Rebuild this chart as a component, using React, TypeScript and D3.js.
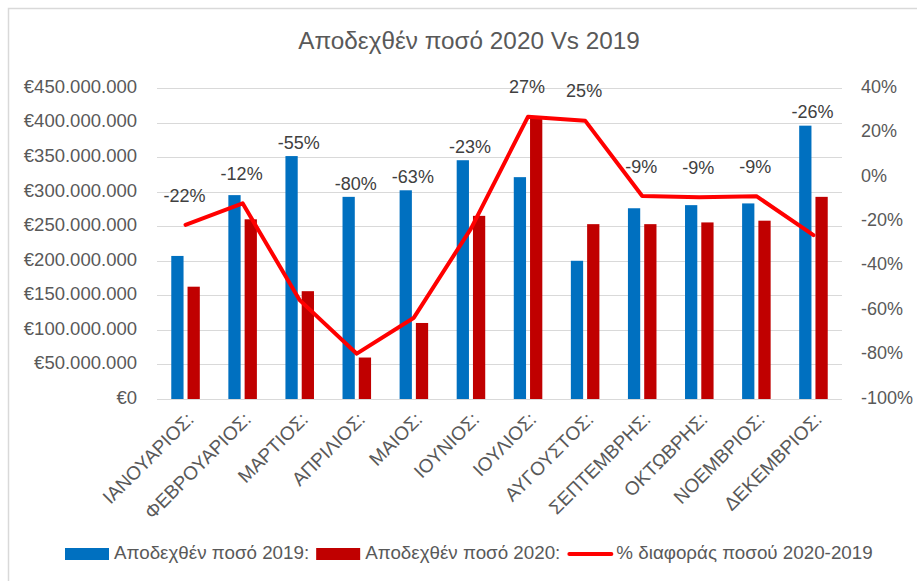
import React, { useEffect, useRef } from 'react';
import * as d3 from 'd3';

const months = [
    'ΙΑΝΟΥΑΡΙΟΣ:', 'ΦΕΒΡΟΥΑΡΙΟΣ:', 'ΜΑΡΤΙΟΣ:', 'ΑΠΡΙΛΙΟΣ:', 'ΜΑΙΟΣ:', 'ΙΟΥΝΙΟΣ:',
    'ΙΟΥΛΙΟΣ:', 'ΑΥΓΟΥΣΤΟΣ:', 'ΣΕΠΤΕΜΒΡΗΣ:', 'ΟΚΤΩΒΡΗΣ:', 'ΝΟΕΜΒΡΙΟΣ:', 'ΔΕΚΕΜΒΡΙΟΣ:'
];
const amount2019 = [207e6, 295e6, 351.5e6, 292.5e6, 302e6, 345.5e6, 321e6, 200e6, 276e6, 280.5e6, 283e6, 395.5e6];
const amount2020 = [162.5e6, 260e6, 156e6, 60e6, 110e6, 265e6, 408e6, 253e6, 253e6, 255.5e6, 258e6, 292.5e6];
const pctDiff = [-21.6, -11.9, -55.5, -79.6, -63.4, -23.3, 27.1, 25.3, -8.6, -9.2, -8.7, -26.2];

const leftTicks = [0, 50e6, 100e6, 150e6, 200e6, 250e6, 300e6, 350e6, 400e6, 450e6];
const rightTicks = [-100, -80, -60, -40, -20, 0, 20, 40];

const title = 'Αποδεχθέν ποσό 2020 Vs 2019';
const legendLabels = ['Αποδεχθέν ποσό 2019:', 'Αποδεχθέν ποσό 2020:', '% διαφοράς ποσού 2020-2019'];

const BLUE = '#0070C0';
const DARK_RED = '#C00000';
const LINE_RED = '#FF0000';
const GRID = '#D9D9D9';
const TEXT = '#595959';
const FONT = '"Liberation Sans", Arial, sans-serif';

export default function App() {
    const ref = useRef<SVGSVGElement>(null);
    const width = 917;
    const height = 581;
    const plotLeft = 157;
    const plotRight = 842;
    const plotTop = 88;
    const plotBottom = 399;

    useEffect(() => {
        const svg = d3.select(ref.current);
        svg.selectAll('*').remove();

        // chart frame (cut off on the right and bottom like the screenshot)
        svg.append('rect')
            .attr('x', 8.5)
            .attr('y', 8.5)
            .attr('width', 1000)
            .attr('height', 700)
            .attr('fill', 'white')
            .attr('stroke', GRID)
            .attr('stroke-width', 1.5);

        const x = d3.scaleBand()
            .domain(months)
            .range([plotLeft, plotRight])
            .paddingInner(0.5)
            .paddingOuter(0.25);
        const y = d3.scaleLinear().domain([0, 450e6]).range([plotBottom, plotTop]);
        const yPct = d3.scaleLinear().domain([-100, 40]).range([plotBottom, plotTop]);

        const bw = x.bandwidth();
        const barW = bw * 0.43;
        const barGap = bw - 2 * barW;
        const center = (m: string) => (x(m) as number) + bw / 2;

        // gridlines
        svg.append('g')
            .selectAll('line')
            .data(leftTicks)
            .join('line')
            .attr('x1', plotLeft)
            .attr('x2', plotRight)
            .attr('y1', d => Math.round(y(d)) + 0.5)
            .attr('y2', d => Math.round(y(d)) + 0.5)
            .attr('stroke', GRID)
            .attr('stroke-width', 1);

        // left axis labels
        const euro = (v: number) => '€' + d3.format(',')(v).replace(/,/g, '.');
        svg.append('g')
            .selectAll('text')
            .data(leftTicks)
            .join('text')
            .attr('x', 137)
            .attr('y', d => y(d))
            .attr('text-anchor', 'end')
            .attr('dominant-baseline', 'middle')
            .style('font-family', FONT)
            .style('font-size', '18.5px')
            .style('fill', TEXT)
            .text(d => euro(d));

        // right axis labels
        svg.append('g')
            .selectAll('text')
            .data(rightTicks)
            .join('text')
            .attr('x', 861)
            .attr('y', d => yPct(d))
            .attr('text-anchor', 'start')
            .attr('dominant-baseline', 'middle')
            .style('font-family', FONT)
            .style('font-size', '18px')
            .style('fill', TEXT)
            .text(d => d + '%');

        // bars
        svg.append('g')
            .selectAll('rect')
            .data(months)
            .join('rect')
            .attr('x', m => x(m) as number)
            .attr('y', (m, i) => y(amount2019[i]))
            .attr('width', barW)
            .attr('height', (m, i) => y(0) - y(amount2019[i]))
            .attr('fill', BLUE);

        svg.append('g')
            .selectAll('rect')
            .data(months)
            .join('rect')
            .attr('x', m => (x(m) as number) + barW + barGap)
            .attr('y', (m, i) => y(amount2020[i]))
            .attr('width', barW)
            .attr('height', (m, i) => y(0) - y(amount2020[i]))
            .attr('fill', DARK_RED);

        // percentage line
        const line = d3.line<number>()
            .x((d, i) => center(months[i]))
            .y(d => yPct(d));
        svg.append('path')
            .datum(pctDiff)
            .attr('d', line)
            .attr('fill', 'none')
            .attr('stroke', LINE_RED)
            .attr('stroke-width', 4)
            .attr('stroke-linejoin', 'round')
            .attr('stroke-linecap', 'round');

        // data labels: above the line point, or above the bars if they would overlap
        svg.append('g')
            .selectAll('text')
            .data(pctDiff)
            .join('text')
            .attr('x', (d, i) => center(months[i]) - 1)
            .attr('y', (d, i) => {
                let ly = yPct(d) - 28;
                const barTop = Math.min(y(amount2019[i]), y(amount2020[i]));
                if (ly + 8 > barTop) ly = barTop - 12;
                return ly;
            })
            .attr('text-anchor', 'middle')
            .attr('dominant-baseline', 'middle')
            .style('font-family', FONT)
            .style('font-size', '18px')
            .style('fill', '#404040')
            .text(d => Math.round(d) + '%');

        // category labels
        svg.append('g')
            .selectAll('text')
            .data(months)
            .join('text')
            .attr('transform', m => `translate(${center(m) + 6},${417}) rotate(-45)`)
            .attr('text-anchor', 'end')
            .attr('dominant-baseline', 'middle')
            .style('font-family', FONT)
            .style('font-size', '19px')
            .style('fill', TEXT)
            .text(m => m);

        // title
        svg.append('text')
            .attr('x', 469)
            .attr('y', 43)
            .attr('text-anchor', 'middle')
            .attr('dominant-baseline', 'middle')
            .style('font-family', FONT)
            .style('font-size', '24.3px')
            .style('fill', TEXT)
            .text(title);

        // legend
        const legend = svg.append('g');
        const ly = 554;
        let lx = 65;
        legendLabels.forEach((label, i) => {
            if (i < 2) {
                legend.append('rect')
                    .attr('x', lx)
                    .attr('y', ly - 6)
                    .attr('width', 44)
                    .attr('height', 12)
                    .attr('fill', i === 0 ? BLUE : DARK_RED);
            } else {
                legend.append('line')
                    .attr('x1', lx + 2)
                    .attr('x2', lx + 44)
                    .attr('y1', ly)
                    .attr('y2', ly)
                    .attr('stroke', LINE_RED)
                    .attr('stroke-width', 4)
                    .attr('stroke-linecap', 'round');
            }
            const t = legend.append('text')
                .attr('x', lx + 49)
                .attr('y', ly)
                .attr('dominant-baseline', 'middle')
                .style('font-family', FONT)
                .style('font-size', '18.8px')
                .style('fill', TEXT)
                .text(label);
            const tw = (t.node() as SVGTextElement).getComputedTextLength();
            lx = lx + 49 + tw + 7;
        });
    }, []);

    return (
        <svg
            ref={ref}
            width={width}
            height={height}
            style={{ position: 'absolute', left: 0, top: 0, background: 'white' }}
        ></svg>
    );
}
